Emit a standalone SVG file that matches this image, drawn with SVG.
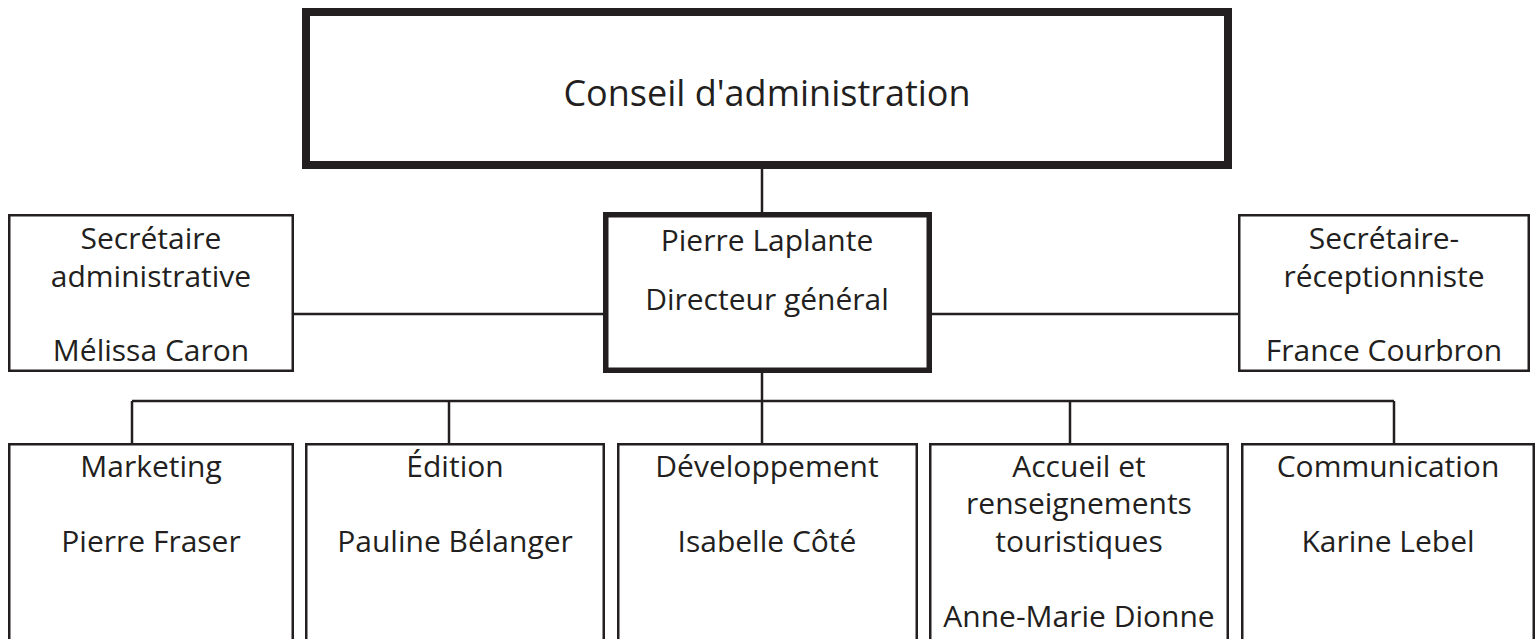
<svg xmlns="http://www.w3.org/2000/svg" width="1538" height="639" viewBox="0 0 1538 639">
<style>
.box{fill:#fff;stroke:#231f20;stroke-width:2.5}
.thick{fill:#fff;stroke:#231f20;stroke-width:5.5}
.top{fill:#fff;stroke:#231f20;stroke-width:8}
.ln{stroke:#231f20;stroke-width:2.5;fill:none}
text{font-family:"Open Sans","Noto Sans",sans-serif;font-size:30px;fill:#231f20;text-anchor:middle}
.big{font-size:36px}
</style>
<rect width="1538" height="639" fill="#fff"/>
<g id="connectors">
<line class="ln" x1="762" y1="169" x2="762" y2="212"/>
<line class="ln" x1="294" y1="314" x2="603" y2="314"/>
<line class="ln" x1="932" y1="314" x2="1240" y2="314"/>
<line class="ln" x1="762" y1="373" x2="762" y2="401"/>
<line class="ln" x1="132" y1="401" x2="1394" y2="401"/>
<line class="ln" x1="132" y1="401" x2="132" y2="444"/>
<line class="ln" x1="449" y1="401" x2="449" y2="444"/>
<line class="ln" x1="762" y1="401" x2="762" y2="444"/>
<line class="ln" x1="1070" y1="401" x2="1070" y2="444"/>
<line class="ln" x1="1394" y1="401" x2="1394" y2="444"/>
</g>
<g id="conseil">
<rect class="top" x="306" y="12" width="922" height="153"/>
<text class="big" x="767" y="106">Conseil d'administration</text>
</g>
<g id="directeur">
<rect class="thick" x="605.75" y="214.75" width="323.5" height="155.5"/>
<text x="767" y="251">Pierre Laplante</text>
<text x="767" y="310">Directeur général</text>
</g>
<g id="sec-admin">
<rect class="box" x="9.25" y="215.25" width="283.5" height="155.5"/>
<text x="151" y="249">Secrétaire</text>
<text x="151" y="287">administrative</text>
<text x="151" y="361">Mélissa Caron</text>
</g>
<g id="sec-recep">
<rect class="box" x="1239.25" y="215.25" width="289.5" height="155.5"/>
<text x="1384" y="249">Secrétaire-</text>
<text x="1384" y="287">réceptionniste</text>
<text x="1384" y="361">France Courbron</text>
</g>
<g id="marketing">
<rect class="box" x="9.25" y="444.25" width="283.5" height="300"/>
<text x="151" y="477">Marketing</text>
<text x="151" y="552">Pierre Fraser</text>
</g>
<g id="edition">
<rect class="box" x="306.25" y="444.25" width="297.5" height="300"/>
<text x="455" y="477">Édition</text>
<text x="455" y="552">Pauline Bélanger</text>
</g>
<g id="developpement">
<rect class="box" x="618.25" y="444.25" width="298.5" height="300"/>
<text x="767" y="477">Développement</text>
<text x="767" y="552">Isabelle Côté</text>
</g>
<g id="accueil">
<rect class="box" x="930.25" y="444.25" width="297.5" height="300"/>
<text x="1079" y="477">Accueil et</text>
<text x="1079" y="514">renseignements</text>
<text x="1079" y="552">touristiques</text>
<text x="1079" y="627">Anne-Marie Dionne</text>
</g>
<g id="communication">
<rect class="box" x="1242.25" y="444.25" width="291.5" height="300"/>
<text x="1388" y="477">Communication</text>
<text x="1388" y="552">Karine Lebel</text>
</g>
</svg>
